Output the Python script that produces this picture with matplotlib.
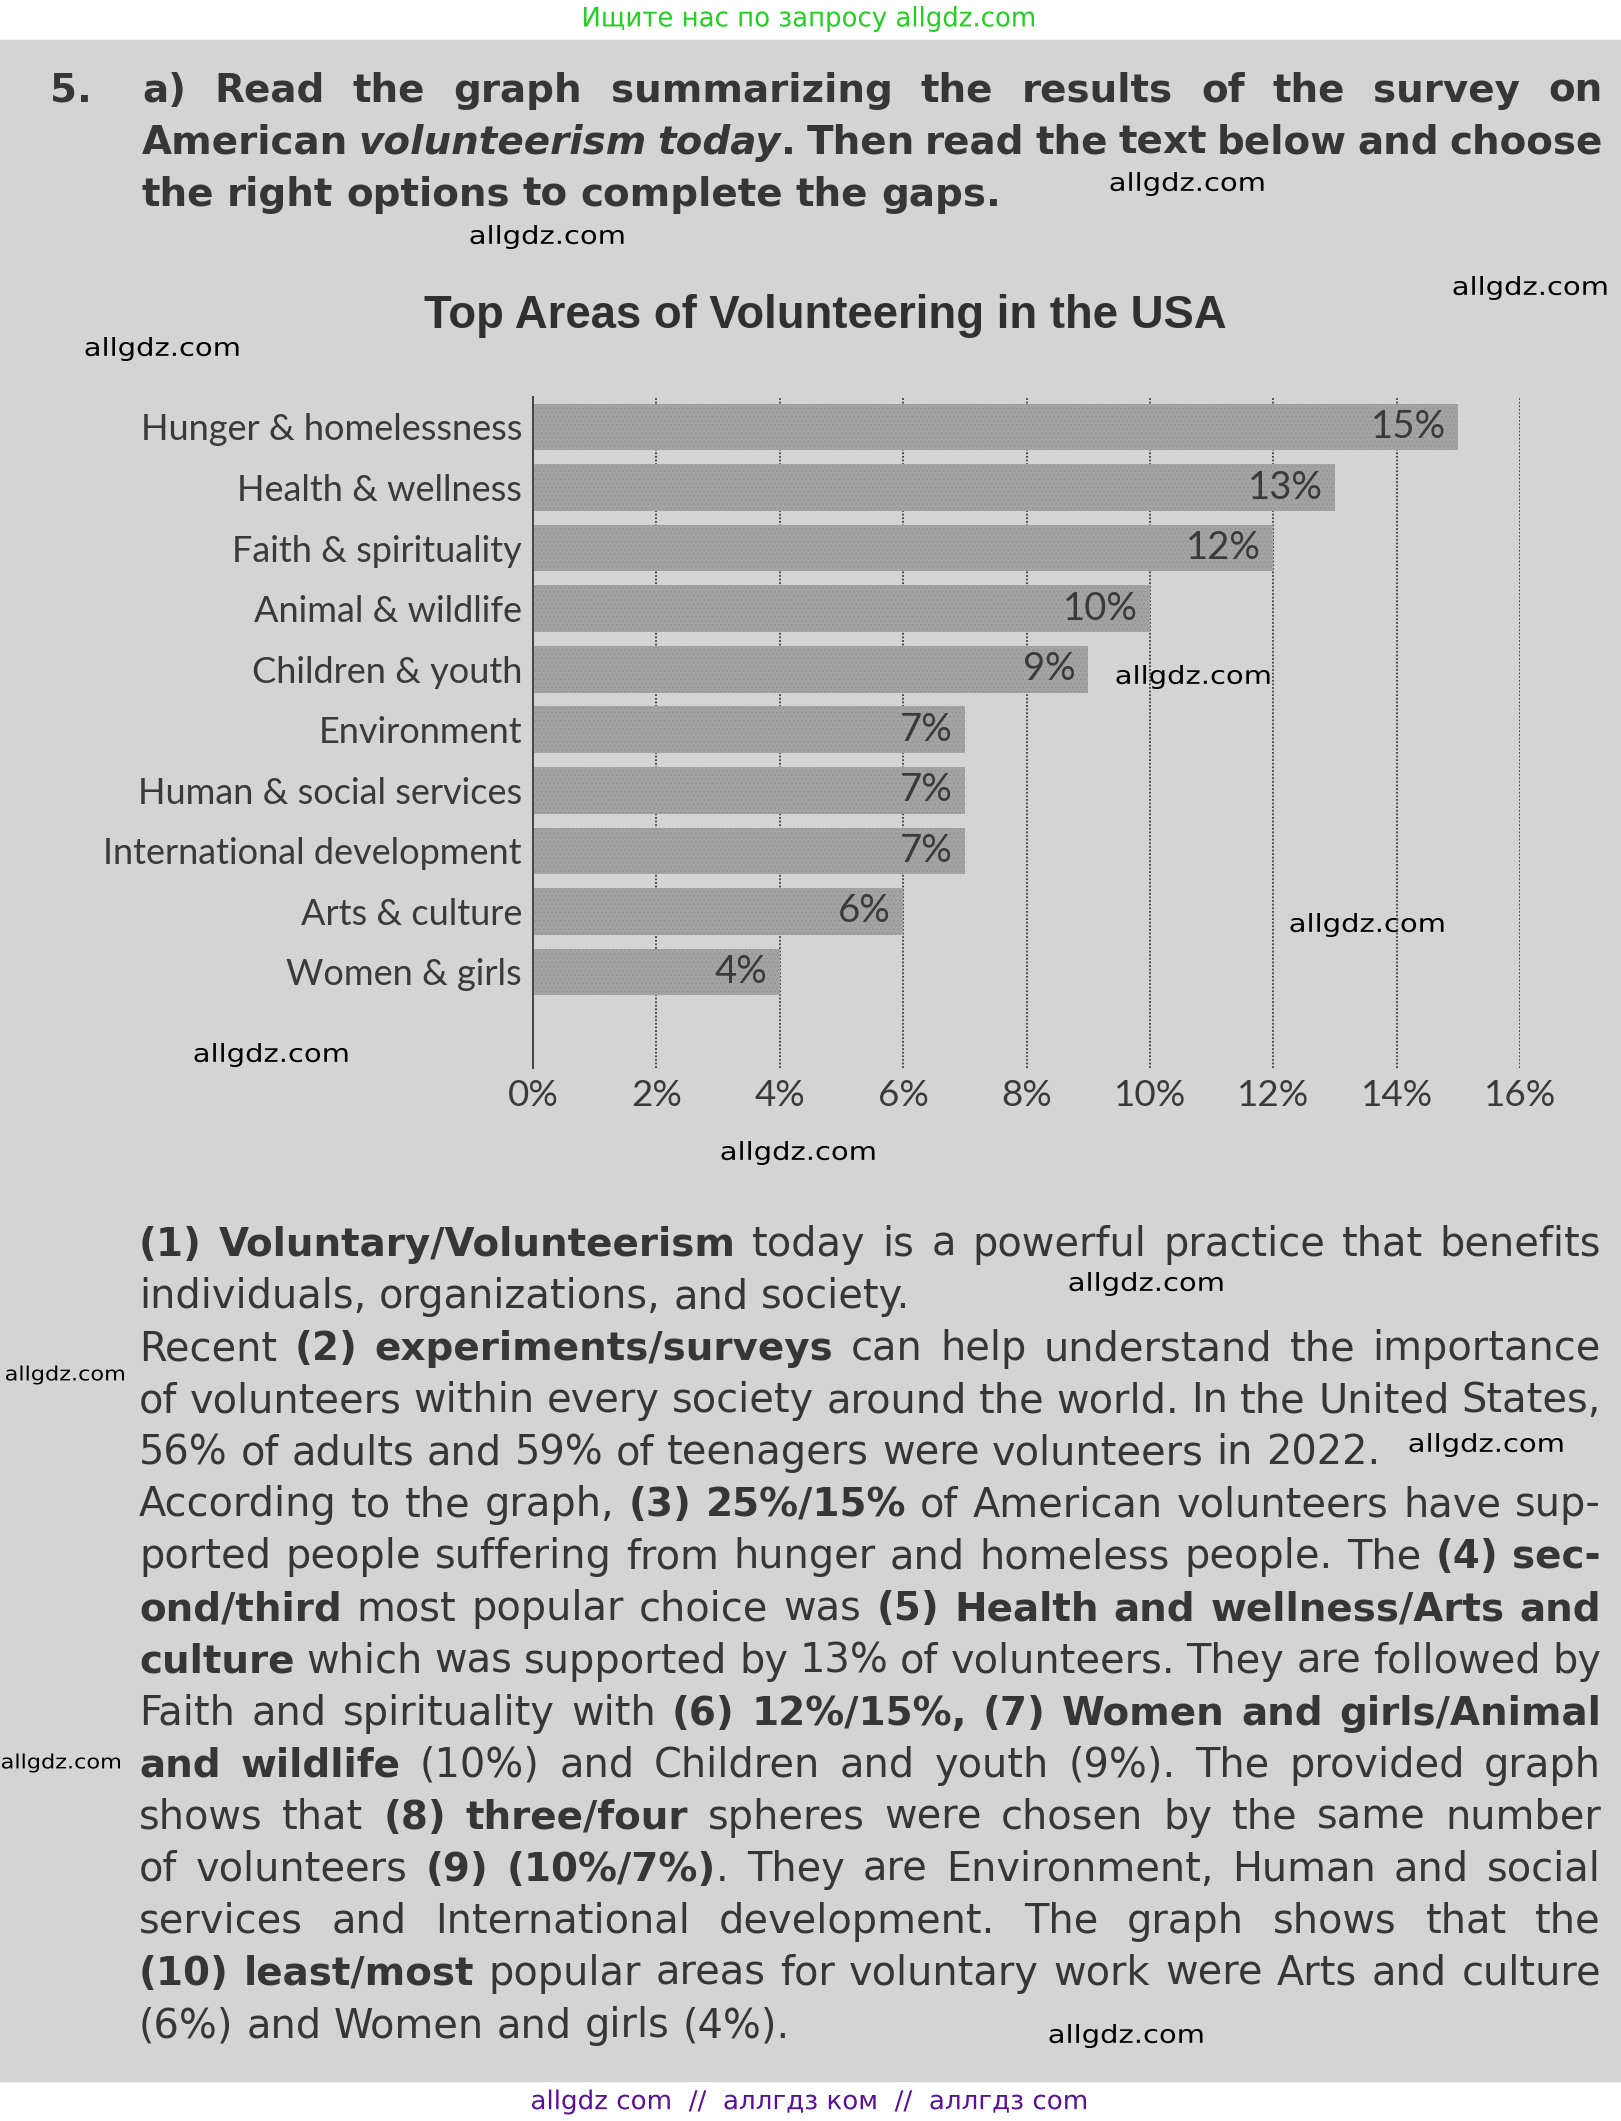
import re
import matplotlib
matplotlib.use('Agg')
import matplotlib.pyplot as plt
from matplotlib.patches import Rectangle, PathPatch
from matplotlib.textpath import TextPath
from matplotlib.font_manager import FontProperties
from matplotlib.transforms import Affine2D

W, H = 1621, 2121

# chart data
areas = ['Hunger & homelessness', 'Health & wellness', 'Faith & spirituality',
         'Animal & wildlife', 'Children & youth', 'Environment',
         'Human & social services', 'International development',
         'Arts & culture', 'Women & girls']
shares = [15, 13, 12, 10, 9, 7, 7, 7, 6, 4]
x_ticks = [0, 2, 4, 6, 8, 10, 12, 14, 16]
x_tick_labels = [f'{t}%' for t in x_ticks]
chart_title = 'Top Areas of Volunteering in the USA'

# page text: **bold**, __bold italic__
task_number = '5.'
task_lines = [
    ('**a) Read the graph summarizing the results of the survey on**', True),
    ('**American** __volunteerism today__**. Then read the text below and choose**', True),
    ('**the right options to complete the gaps.**', False),
]
body_lines = [
    ('**(1) Voluntary/Volunteerism** today is a powerful practice that benefits', True),
    ('individuals, organizations, and society.', False),
    ('Recent **(2) experiments/surveys** can help understand the importance', True),
    ('of volunteers within every society around the world. In the United States,', True),
    ('56% of adults and 59% of teenagers were volunteers in 2022.', False),
    ('According to the graph, **(3) 25%/15%** of American volunteers have sup-', True),
    ('ported people suffering from hunger and homeless people. The **(4) sec-**', True),
    ('**ond/third** most popular choice was **(5) Health and wellness/Arts and**', True),
    ('**culture** which was supported by 13% of volunteers. They are followed by', True),
    ('Faith and spirituality with **(6) 12%/15%, (7) Women and girls/Animal**', True),
    ('**and wildlife** (10%) and Children and youth (9%). The provided graph', True),
    ('shows that **(8) three/four** spheres were chosen by the same number', True),
    ('of volunteers **(9) (10%/7%)**. They are Environment, Human and social', True),
    ('services and International development. The graph shows that the', True),
    ('**(10) least/most** popular areas for voluntary work were Arts and culture', True),
    ('(6%) and Women and girls (4%).', False),
]

watermark = 'allgdz.com'
# centre x, centre y, width, height (pixels)
wm_spots = [(1187, 184, 153, 24), (547, 237, 153, 24), (1530, 288, 153, 24),
            (162, 349, 153, 24), (1193, 677, 153, 24), (1367, 925, 153, 24),
            (271, 1055, 153, 24), (798, 1153, 153, 24), (1146, 1284, 153, 24),
            (65, 1375, 118, 19), (1486, 1445, 153, 24), (61, 1763, 118, 19),
            (1126, 2036, 153, 24)]
top_banner = 'Ищите нас по запросу allgdz.com'
bottom_banner = 'allgdz com  //  аллгдз ком  //  аллгдз com'

TEXT = '#363636'
CHART_TXT = '#3a3a3a'
PAGE = '#d4d4d4'

fig = plt.figure(figsize=(W / 100, H / 100), dpi=100)
fig.patch.set_facecolor('white')
page = fig.add_axes([0, 0, 1, 1])
page.set_xlim(0, W)
page.set_ylim(H, 0)
page.axis('off')
page.add_patch(Rectangle((0, 40), W, 2041, color=PAGE, zorder=0))

renderer = fig.canvas.get_renderer()


def parse(line):
    runs = []
    for part in re.split(r'(\*\*.+?\*\*|__.+?__)', line):
        if not part:
            continue
        if part.startswith('**'):
            runs.append((part[2:-2], 'bold', 'normal'))
        elif part.startswith('__'):
            runs.append((part[2:-2], 'bold', 'italic'))
        else:
            runs.append((part, 'normal', 'normal'))
    groups, cur = [], []
    for text, wt, st in runs:
        parts = text.split(' ')
        for j, p in enumerate(parts):
            if j > 0 and cur:
                groups.append(cur)
                cur = []
            if p:
                cur.append((p, wt, st))
    if cur:
        groups.append(cur)
    return groups


def set_line(line, x0, x1, y, justify, size_reg=28.7, size_bold=28.0):
    groups = parse(line)
    placed, widths = [], []
    for g in groups:
        gw = 0
        items = []
        for s, wt, st in g:
            sz = size_bold if wt == 'bold' else size_reg
            t = page.text(0, y, s, fontsize=sz, fontweight=wt, fontstyle=st,
                          color=TEXT, va='baseline', ha='left',
                          family='DejaVu Sans', zorder=3)
            items.append((t, gw))
            gw += t.get_window_extent(renderer).width
        placed.append(items)
        widths.append(gw)
    if justify and len(groups) > 1:
        gap = (x1 - x0 - sum(widths)) / (len(groups) - 1)
    else:
        gap = 0.318 * size_reg * 100 / 72
    x = x0
    for items, gw in zip(placed, widths):
        for t, off in items:
            t.set_x(x + off)
        x += gw + gap


def boxed_text(cx, cy, s, width, height, color):
    tp = TextPath((0, 0), s, size=40, prop=FontProperties(family='DejaVu Sans'))
    bb = tp.get_extents()
    tr = (Affine2D().translate(-(bb.x0 + bb.width / 2), -(bb.y0 + bb.height / 2))
          .scale(width / bb.width, -height / bb.height).translate(cx, cy))
    page.add_patch(PathPatch(tr.transform_path(tp), facecolor=color,
                             edgecolor='none', zorder=6))


# header
page.text(50, 102, task_number, fontsize=28, fontweight='bold', color=TEXT,
          va='baseline', ha='left', family='DejaVu Sans')
for i, (ln, just) in enumerate(task_lines):
    set_line(ln, 142, 1603, 102 + 52 * i, just)

# body text
for i, (ln, just) in enumerate(body_lines):
    set_line(ln, 139, 1601, 1256 + 52.07 * i, just)

# chart title, sized to the printed width
title = page.text(825, 316, chart_title, fontsize=30, fontweight='bold',
                  color='#303030', ha='center', va='center',
                  family=['Liberation Sans', 'DejaVu Sans'])
tw = title.get_window_extent(renderer).width
title.set_fontsize(30 * 804 / tw)

ax = fig.add_axes([533 / W, 1 - 1068 / H, (1520 - 533) / W, (1068 - 397) / H])
ax.set_facecolor('none')
pos = list(range(len(areas)))
plt.rcParams['hatch.linewidth'] = 0.6
ax.barh(pos, shares, height=0.77, color='#a3a3a3', edgecolor='#939393',
        linewidth=0, hatch='....', zorder=2)
for p, v in zip(pos, shares):
    ax.annotate(f'{v}%', (v, p), xytext=(-9, 0), textcoords='offset points',
                ha='right', va='center', fontsize=27.5, color=CHART_TXT,
                family='Lato', zorder=4)
ax.set_xlim(0, 16)
ax.set_ylim(10.586, -0.495)
ax.set_yticks(pos)
ax.set_yticklabels(areas, fontsize=26, color=CHART_TXT, family='Lato')
ax.set_xticks(x_ticks)
ax.set_xticklabels(x_tick_labels, fontsize=26.5, color=CHART_TXT, family='Lato')
ax.tick_params(axis='both', length=0)
ax.tick_params(axis='y', pad=8)
ax.tick_params(axis='x', pad=8)
for t in x_ticks[1:]:
    ax.axvline(t, color='#3f3f3f', linewidth=1.3, linestyle=(0, (1, 1)), zorder=1)
for side in ['top', 'right', 'bottom']:
    ax.spines[side].set_visible(False)
ax.spines['left'].set_color('#444444')
ax.spines['left'].set_linewidth(1.4)

# watermarks and banners
for x, y, w, h in wm_spots:
    boxed_text(x, y, watermark, w, h, 'black')
boxed_text(809, 19, top_banner, 450, 26, '#22d022')
boxed_text(809, 2102, bottom_banner, 554, 25, '#5a1098')

fig.savefig('out.png', dpi=100, facecolor='white')
